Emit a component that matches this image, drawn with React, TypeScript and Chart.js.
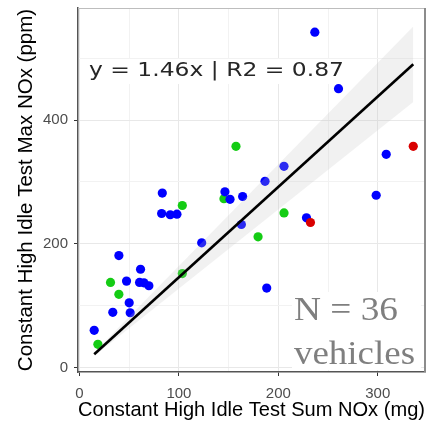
import React, { useEffect, useRef } from "react";
import { Chart, registerables } from "chart.js";

Chart.register(...registerables);

// ---- data ----
const blueX = [83.3, 82.6, 91.3, 98, 39.6, 122.9, 61.4, 47.3, 60.4, 64.8, 69.8, 50, 33.5, 51, 14.8, 205.7, 186.6, 146.3, 151.4, 164.1, 162.8, 228.3, 236.7, 260.5, 308.5, 298.4, 188.3];
const blueY = [282, 249, 247, 248, 181, 201.6, 159, 139.8, 137.7, 137, 132.3, 104.8, 89.4, 88.7, 60.3, 325.3, 301, 284, 272, 276.5, 231.3, 242, 542, 450.6, 344.7, 278.5, 128.5];
const greenX = [103.4, 31.2, 39.6, 18.5, 103.4, 157.4, 145.3, 205.7, 179.6];
const greenY = [262, 137.7, 118.4, 37.7, 152, 357.6, 273, 250, 211.3];
const redX = [335.7, 232.3];
const redY = [357.6, 234.5];

const fitX = [14.8, 335.7];
const fitY = [21.6, 490];
const ribbonLowY = [18.9, 429];
const ribbonHighY = [24.3, 551];

const xMajorTicks = [0, 100, 200, 300];
const xMinorTicks = [50, 150, 250];
const yMajorTicks = [0, 200, 400];
const yMinorTicks = [100, 300, 500];
const xRange = [-1.5, 347.5];
const yRange = [-7, 581];

const equationLabel = "y = 1.46x | R2 = 0.87";
const countLines = ["N = 36", "vehicles"];
const xTitle = "Constant High Idle Test Sum NOx (mg)";
const yTitle = "Constant High Idle Test Max NOx (ppm)";

const toPts = (xs: number[], ys: number[]) => xs.map((x, i) => ({ x, y: ys[i] }));

const frameAndText = {
  id: "frameAndText",
  afterDraw(chart: any) {
    const { ctx, chartArea: a } = chart;
    ctx.save();
    // top and right panel border
    ctx.strokeStyle = "#bdbdbd";
    ctx.lineWidth = 1;
    ctx.beginPath();
    ctx.moveTo(a.left, a.top + 0.5);
    ctx.lineTo(a.right, a.top + 0.5);
    ctx.stroke();
    ctx.strokeStyle = "#8c8c8c";
    ctx.lineWidth = 2;
    ctx.beginPath();
    ctx.moveTo(a.right, a.top);
    ctx.lineTo(a.right, a.bottom);
    ctx.stroke();

    // equation label with white box
    ctx.fillStyle = "#ffffff";
    ctx.fillRect(84, 59, 267, 25);
    ctx.font = '19px "DejaVu Sans"';
    ctx.textBaseline = "alphabetic";
    ctx.textAlign = "left";
    const w = ctx.measureText(equationLabel).width;
    ctx.save();
    ctx.translate(89, 76);
    ctx.scale(255 / w, 1);
    ctx.fillStyle = "#262626";
    ctx.fillText(equationLabel, 0, 0);
    ctx.restore();

    // N = 36 box
    ctx.fillStyle = "#ffffff";
    ctx.fillRect(292, 292, 129, 78);
    ctx.font = '34px "Liberation Serif"';
    ctx.fillStyle = "#7f7f7f";
    const targets = [104, 121];
    const baselines = [320, 364];
    countLines.forEach((t, i) => {
      const tw = ctx.measureText(t).width;
      ctx.save();
      ctx.translate(294, baselines[i]);
      ctx.scale(targets[i] / tw, 1);
      ctx.fillText(t, 0, 0);
      ctx.restore();
    });
    ctx.restore();
  },
};

function App() {
  const ref = useRef<HTMLCanvasElement | null>(null);
  useEffect(() => {
    if (!ref.current) return;
    const isMajorX = (v: number) => xMajorTicks.includes(v);
    const isMajorY = (v: number) => yMajorTicks.includes(v);
    const chart = new Chart(ref.current, {
      type: "scatter",
      data: {
        datasets: [
          {
            type: "line",
            data: toPts(fitX, fitY),
            borderColor: "#000000",
            borderWidth: 2.6,
            pointRadius: 0,
            fill: false,
            order: 1,
          } as any,
          {
            type: "line",
            data: toPts(fitX, ribbonLowY),
            borderWidth: 0,
            borderColor: "rgba(0,0,0,0)",
            pointRadius: 0,
            fill: false,
            order: 2,
          } as any,
          {
            type: "line",
            data: toPts(fitX, ribbonHighY),
            borderWidth: 0,
            borderColor: "rgba(0,0,0,0)",
            backgroundColor: "rgba(190,190,190,0.22)",
            pointRadius: 0,
            fill: "-1",
            order: 2,
          } as any,
          {
            data: toPts(redX, redY),
            backgroundColor: "#d90000",
            pointRadius: 4.6,
            borderWidth: 0,
            order: 3,
          },
          {
            data: toPts(blueX, blueY),
            backgroundColor: "#0000ff",
            pointRadius: 4.6,
            borderWidth: 0,
            order: 4,
          },
          {
            data: toPts(greenX, greenY),
            backgroundColor: "#14cc14",
            pointRadius: 4.6,
            borderWidth: 0,
            order: 5,
          },
        ],
      },
      options: {
        responsive: false,
        animation: false,
        events: [],
        layout: { padding: { left: 0, top: 8, right: 6, bottom: 0 } },
        plugins: { legend: { display: false }, tooltip: { enabled: false } },
        scales: {
          x: {
            type: "linear",
            min: xRange[0],
            max: xRange[1],
            afterBuildTicks: (s: any) => {
              s.ticks = [...xMajorTicks, ...xMinorTicks].sort((a, b) => a - b).map((v) => ({ value: v }));
            },
            afterFit: (s: any) => {
              s.height = 52;
              s.paddingLeft = 0;
              s.paddingRight = 0;
            },
            ticks: {
              autoSkip: false,
              maxRotation: 0,
              padding: 9,
              color: "#4d4d4d",
              font: { family: "Liberation Sans", size: 15 },
              callback: (v: any) => (isMajorX(Number(v)) ? String(v) : ""),
            },
            grid: {
              color: (c: any) => (isMajorX(c.tick?.value) ? "#e8e8e8" : "#f2f2f2"),
              tickColor: (c: any) => (isMajorX(c.tick?.value) ? "#333333" : "rgba(0,0,0,0)"),
              tickLength: 4,
              lineWidth: 1,
            },
            border: { color: "#555555", width: 1.5 },
            title: {
              display: true,
              text: xTitle,
              color: "#000000",
              font: { family: "Liberation Sans", size: 20.5 },
              padding: { top: 0, bottom: 1.8 },
            },
          },
          y: {
            type: "linear",
            min: yRange[0],
            max: yRange[1],
            afterBuildTicks: (s: any) => {
              s.ticks = [...yMajorTicks, ...yMinorTicks].sort((a, b) => a - b).map((v) => ({ value: v }));
            },
            afterFit: (s: any) => {
              s.width = 78;
              s.paddingTop = 0;
              s.paddingBottom = 0;
            },
            ticks: {
              autoSkip: false,
              padding: 6,
              color: "#4d4d4d",
              font: { family: "Liberation Sans", size: 15 },
              callback: (v: any) => (isMajorY(Number(v)) ? String(v) : ""),
            },
            grid: {
              color: (c: any) => (isMajorY(c.tick?.value) ? "#e8e8e8" : "#f2f2f2"),
              tickColor: (c: any) => (isMajorY(c.tick?.value) ? "#333333" : "rgba(0,0,0,0)"),
              tickLength: 4,
              lineWidth: 1,
            },
            border: { color: "#555555", width: 1.5 },
            title: {
              display: true,
              text: yTitle,
              color: "#000000",
              font: { family: "Liberation Sans", size: 20.5 },
              padding: { top: 13.6, bottom: 0 },
            },
          },
        },
      },
      plugins: [frameAndText],
    } as any);
    return () => chart.destroy();
  }, []);
  return (
    <div style={{ position: "absolute", left: 0, top: 0, width: 431, height: 424, background: "#fff" }}>
      <canvas ref={ref} width={431} height={424} style={{ display: "block" }} />
    </div>
  );
}

export default App;
